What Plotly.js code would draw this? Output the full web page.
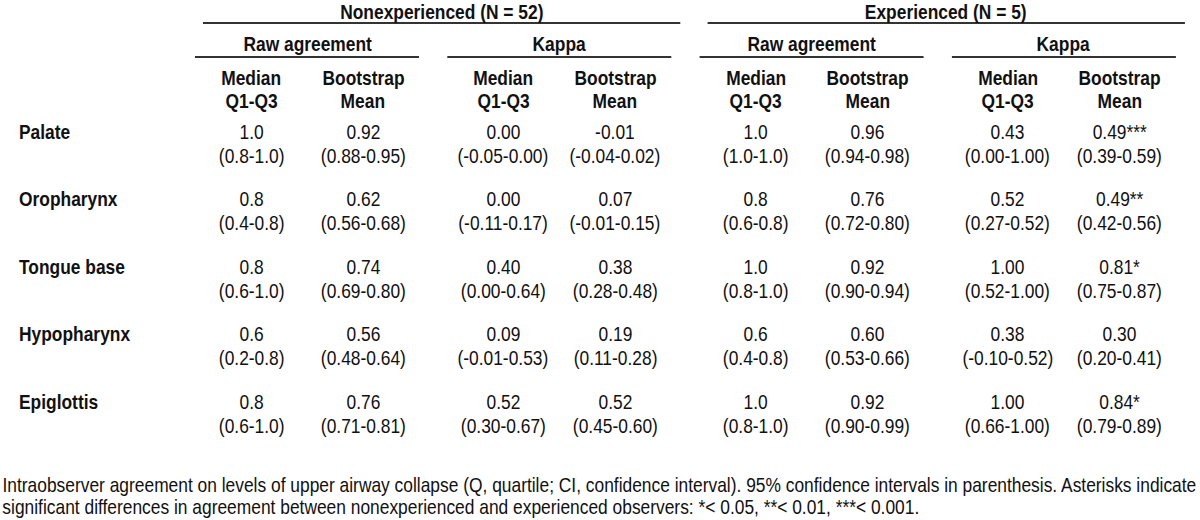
<!DOCTYPE html>
<html>
<head>
<meta charset="utf-8">
<script src="https://cdn.plot.ly/plotly-3.0.1.min.js"></script>
<style>html,body{margin:0;padding:0;background:#fff;}#chart{width:1200px;height:520px;}</style>
</head>
<body>
<div id="chart"></div>
<script>
// ---- data ----
const groups = ['Nonexperienced (N = 52)', 'Experienced (N = 5)'];
const measures = ['Raw agreement', 'Kappa'];
const statHead1 = ['Median', 'Bootstrap'];
const statHead2 = ['Q1-Q3', 'Mean'];
const rows = ['Palate', 'Oropharynx', 'Tongue base', 'Hypopharynx', 'Epiglottis'];

const nonexpRawMedian   = ['1.0', '0.8', '0.8', '0.6', '0.8'];
const nonexpRawMedianQ  = ['(0.8-1.0)', '(0.4-0.8)', '(0.6-1.0)', '(0.2-0.8)', '(0.6-1.0)'];
const nonexpRawBoot     = ['0.92', '0.62', '0.74', '0.56', '0.76'];
const nonexpRawBootCI   = ['(0.88-0.95)', '(0.56-0.68)', '(0.69-0.80)', '(0.48-0.64)', '(0.71-0.81)'];
const nonexpKapMedian   = ['0.00', '0.00', '0.40', '0.09', '0.52'];
const nonexpKapMedianQ  = ['(-0.05-0.00)', '(-0.11-0.17)', '(0.00-0.64)', '(-0.01-0.53)', '(0.30-0.67)'];
const nonexpKapBoot     = ['-0.01', '0.07', '0.38', '0.19', '0.52'];
const nonexpKapBootCI   = ['(-0.04-0.02)', '(-0.01-0.15)', '(0.28-0.48)', '(0.11-0.28)', '(0.45-0.60)'];
const expRawMedian      = ['1.0', '0.8', '1.0', '0.6', '1.0'];
const expRawMedianQ     = ['(1.0-1.0)', '(0.6-0.8)', '(0.8-1.0)', '(0.4-0.8)', '(0.8-1.0)'];
const expRawBoot        = ['0.96', '0.76', '0.92', '0.60', '0.92'];
const expRawBootCI      = ['(0.94-0.98)', '(0.72-0.80)', '(0.90-0.94)', '(0.53-0.66)', '(0.90-0.99)'];
const expKapMedian      = ['0.43', '0.52', '1.00', '0.38', '1.00'];
const expKapMedianQ     = ['(0.00-1.00)', '(0.27-0.52)', '(0.52-1.00)', '(-0.10-0.52)', '(0.66-1.00)'];
const expKapBoot        = ['0.49***', '0.49**', '0.81*', '0.30', '0.84*'];
const expKapBootCI      = ['(0.39-0.59)', '(0.42-0.56)', '(0.75-0.87)', '(0.20-0.41)', '(0.79-0.89)'];

const captionLines = [
  'Intraobserver agreement on levels of upper airway collapse (Q, quartile; CI, confidence interval). 95% confidence intervals in parenthesis. Asterisks indicate',
  'significant differences in agreement between nonexperienced and experienced observers: *< 0.05, **< 0.01, ***< 0.001.'
];

// ---- layout constants ----
const FONT = '"Liberation Sans", Arial, sans-serif';
const NARROW = 0.828;   // horizontal condensing to mimic Arial Narrow
const FS = 21;
const COLOR = '#111111';
const LINECOLOR = '#333333';
const colX0 = 251, colStep = 112, blockStep = 252.3;
const columns = [
  [nonexpRawMedian, nonexpRawMedianQ], [nonexpRawBoot, nonexpRawBootCI],
  [nonexpKapMedian, nonexpKapMedianQ], [nonexpKapBoot, nonexpKapBootCI],
  [expRawMedian, expRawMedianQ], [expRawBoot, expRawBootCI],
  [expKapMedian, expKapMedianQ], [expKapBoot, expKapBootCI]
];
function colCenter(c) { return colX0 + Math.floor(c / 2) * blockStep + (c % 2) * colStep; }
const rowY0 = 131, rowStep = 67.6, subOffset = 24;

const ann = [];
function addText(x, y, text, opts) {
  ann.push(Object.assign({
    x: x, y: y, xref: 'x', yref: 'y', text: text, showarrow: false,
    xanchor: 'center', yanchor: 'middle',
    font: {family: FONT, size: FS, color: COLOR}
  }, opts || {}));
}
const bold = t => '<b>' + t + '</b>';

const shapes = [];
function hline(x0, x1, y) {
  shapes.push({type: 'line', xref: 'x', yref: 'y', x0: x0, x1: x1, y0: y, y1: y,
               line: {color: LINECOLOR, width: 2}});
}
const lineHalf = 112;
groups.forEach((g, gi) => {
  const left = colCenter(gi * 4) - 48, right = colCenter(gi * 4 + 3) + 65;
  addText((left + right) / 2, 11, bold(g));
  hline(left, right, 23);
  measures.forEach((m, mi) => {
    const b = gi * 2 + mi;
    const cx = (colCenter(b * 2) + colCenter(b * 2 + 1)) / 2;
    addText(cx, 43, bold(m));
    hline(cx - lineHalf, cx + lineHalf, 57);
    statHead1.forEach((s, si) => {
      addText(colCenter(b * 2 + si), 77, bold(s));
      addText(colCenter(b * 2 + si), 100, bold(statHead2[si]));
    });
  });
});

rows.forEach((r, i) => addText(17, rowY0 + i * rowStep, bold(r), {xanchor: 'left'}));

columns.forEach((col, c) => {
  col[0].forEach((v, i) => {
    addText(colCenter(c), rowY0 + i * rowStep, v);
    addText(colCenter(c), rowY0 + i * rowStep + subOffset, col[1][i]);
  });
});

captionLines.forEach((t, i) => addText(0, 484 + i * 22, t, {xanchor: 'left'}));

const layout = {
  width: 1200, height: 520,
  margin: {l: 0, r: 0, t: 0, b: 0},
  paper_bgcolor: '#ffffff', plot_bgcolor: '#ffffff',
  xaxis: {range: [0, 1200], visible: false, fixedrange: true},
  yaxis: {range: [520, 0], visible: false, fixedrange: true},
  showlegend: false,
  annotations: ann,
  shapes: shapes
};

function condense() {
  document.querySelectorAll('#chart .annotation').forEach(g => {
    const idx = +g.getAttribute('data-index');
    const a = ann[idx];
    const t = g.querySelector('text');
    if (!a || !t) return;
    t.style.transformBox = 'fill-box';
    t.style.transformOrigin = a.xanchor === 'left' ? 'left center' : 'center center';
    t.style.transform = 'scaleX(' + NARROW + ')';
  });
}

Plotly.newPlot('chart', [{x: [], y: [], type: 'scatter', mode: 'markers', hoverinfo: 'skip'}],
  layout, {staticPlot: true, displayModeBar: false}).then(condense);
</script>
</body>
</html>
